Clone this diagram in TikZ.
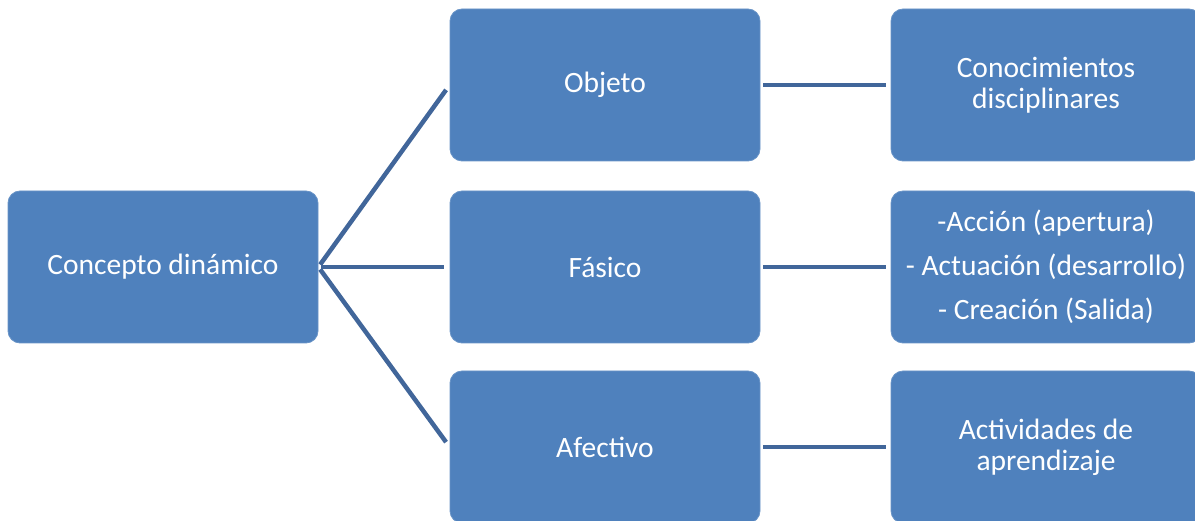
\documentclass[tikz,border=0pt]{standalone}
\usepackage{fontspec}
\setmainfont{Carlito}
\definecolor{boxblue}{HTML}{4F81BD}
\definecolor{linkblue}{HTML}{41669A}
\begin{document}
\begin{tikzpicture}[x=1pt,y=-1pt,
  blk/.style={rectangle, rounded corners=12pt, fill=boxblue, draw=boxblue!85!white, line width=0.8pt,
    minimum width=310pt, minimum height=152pt, inner sep=0pt, text=white, align=center,
    font=\fontsize{29.5}{31}\selectfont},
  link/.style={draw=linkblue, line width=4.5pt}]
\useasboundingbox (0,0) rectangle (1195,521);
\begin{scope}
\clip (0,0) rectangle (1195,521);
\node[blk] (c) at (163,267) {Concepto dinámico};
\node[blk] (o) at (605,85) {Objeto};
\node[blk] (f) at (605,267) {Fásico};
\node[blk] (a) at (605,447) {Afectivo};
\node[blk] (k) at (1046,85) {Conocimientos\\disciplinares};
\node[blk] (p) at (1046,267) {-Acción (apertura)\\[13pt]- Actuación (desarrollo)\\[13pt]- Creación (Salida)};
\node[blk] (d) at (1046,447) {Actividades de\\aprendizaje};
\end{scope}
\draw[link, shorten <=3pt, shorten >=6pt] (c.east) -- (o.west);
\draw[link, shorten <=3pt, shorten >=6pt] (c.east) -- (f.west);
\draw[link, shorten <=3pt, shorten >=6pt] (c.east) -- (a.west);
\draw[link, shorten <=3pt, shorten >=5pt] (o.east) -- (k.west);
\draw[link, shorten <=3pt, shorten >=5pt] (f.east) -- (p.west);
\draw[link, shorten <=3pt, shorten >=5pt] (a.east) -- (d.west);
\end{tikzpicture}
\end{document}
